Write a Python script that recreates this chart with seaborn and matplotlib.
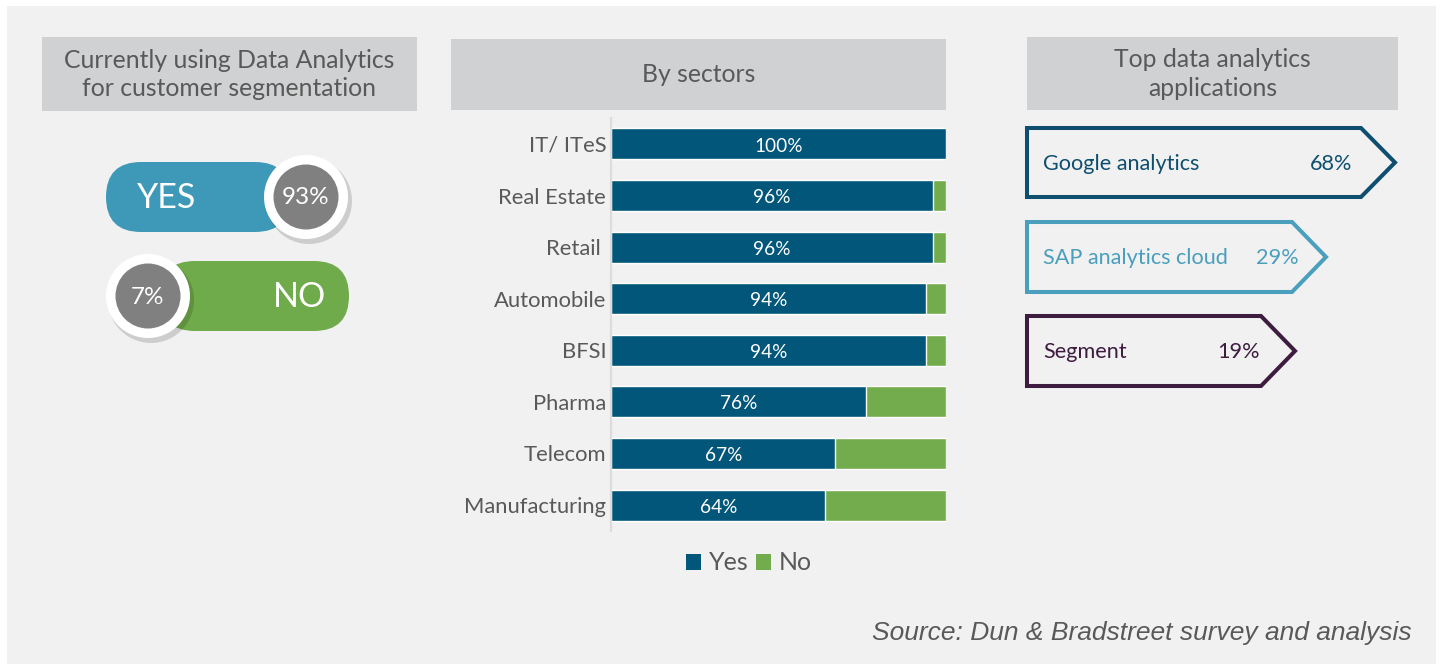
import matplotlib
matplotlib.use("Agg")
import matplotlib.pyplot as plt
from matplotlib.patches import FancyBboxPatch, Rectangle, Circle, Polygon, Patch
import seaborn as sns
import pandas as pd

# ---------------- data ----------------
usage_labels = ["YES", "NO"]
usage_pct = [93, 7]

sectors = ["IT/ ITeS", "Real Estate", "Retail ", "Automobile", "BFSI",
           "Pharma", "Telecom", "Manufacturing"]
yes_pct = [100, 96, 96, 94, 94, 76, 67, 64]
no_pct = [0, 4, 4, 6, 6, 24, 33, 36]

apps = ["Google analytics", "SAP analytics cloud", "Segment"]
app_pct = [68, 29, 19]

titles = ["Currently using Data Analytics\nfor customer segmentation",
          "By sectors", "Top data analytics\napplications"]
legend_labels = ["Yes", "No"]
source_text = "Source: Dun & Bradstreet survey and analysis"

# ---------------- style ----------------
W, H = 1443, 666
FONT = "Lato"
TXT = "#595959"
C_YES = "#01567a"
C_NO = "#72ac4d"
C_PILL_YES = "#3e98b8"
C_PILL_NO = "#70ab4b"
C_HEAD = "#d0d1d3"
C_BG = "#f1f1f1"
APP_COLORS = ["#0e4f6f", "#4a9fbd", "#3d1c40"]

sns.set_theme(style="white")
plt.rcParams["font.family"] = [FONT, "DejaVu Sans"]

fig = plt.figure(figsize=(W / 100, H / 100), dpi=100, facecolor="white")
bg = fig.add_axes([0, 0, 1, 1], zorder=0)
bg.set_xlim(0, W)
bg.set_ylim(H, 0)
bg.axis("off")

# panel background
bg.add_patch(Rectangle((7, 6), 1429, 658, facecolor=C_BG, edgecolor="none"))

# headers
head_boxes = [(42, 37, 375, 74), (451, 39, 495, 71), (1027, 37, 371, 73)]
for (x, y, w, h), t in zip(head_boxes, titles):
    bg.add_patch(Rectangle((x, y), w, h, facecolor=C_HEAD, edgecolor="none"))
    bg.text(x + w / 2, y + h / 2 + 0.5, t, ha="center", va="center",
            fontsize=17.8, color=TXT, linespacing=1.3)

# ---------------- left: pills ----------------
pill_geom = [  # (x0, x1, ycenter, circle_x, label_x)
    (106, 290, 197, 306, 166),
    (160, 349, 296, 148, 298),
]
pill_cols = [C_PILL_YES, C_PILL_NO]
for (x0, x1, yc, cx, lx), lab, pct, col in zip(pill_geom, usage_labels, usage_pct, pill_cols):
    hgt = 70
    bg.add_patch(FancyBboxPatch((x0, yc - hgt / 2), x1 - x0, hgt,
                                boxstyle=f"round,pad=0,rounding_size={hgt/2}",
                                facecolor=col, edgecolor="none", zorder=2))
    # shadow
    bg.add_patch(Circle((cx + 3, yc + 4), 43, facecolor="black", alpha=0.15,
                        edgecolor="none", zorder=3))
    bg.add_patch(Circle((cx, yc), 42, facecolor="white", edgecolor="none", zorder=4))
    bg.add_patch(Circle((cx, yc), 32.5, facecolor="#808080", edgecolor="none", zorder=5))
    bg.text(cx, yc + 1, f"{pct}%", ha="center", va="center", fontsize=17.5,
            color="white", zorder=6)
    bg.text(lx + 1, yc + 1, lab, ha="center", va="center", fontsize=24.5,
            color="white", zorder=6)

# ---------------- right: arrows ----------------
arrow_geom = [  # (top, bottom, body_end, tip, pct_right)
    (128, 197, 1361, 1395, 1352),
    (222, 292, 1292, 1326, 1299),
    (316, 386, 1261, 1295, 1260),
]
ax0 = 1027
for (top, bot, be, tip, pr), name, pct, col in zip(arrow_geom, apps, app_pct, APP_COLORS):
    mid = (top + bot) / 2
    bg.add_patch(Polygon([(ax0, top), (be, top), (tip, mid), (be, bot), (ax0, bot)],
                         closed=True, facecolor="none", edgecolor=col,
                         linewidth=2.9, joinstyle="miter", zorder=2))
    bg.text(1043, mid + 1, name, ha="left", va="center", fontsize=15.6, color=col)
    bg.text(pr, mid + 1, f"{pct}%", ha="right", va="center", fontsize=15.6, color=col)

# ---------------- middle: stacked bars ----------------
step = 51.7
top_px = 144 - step / 2
bot_px = 505 + step / 2
ax = fig.add_axes([611 / W, (H - bot_px) / H, 335 / W, (bot_px - top_px) / H], zorder=1)
ax.set_facecolor("none")

df = pd.DataFrame({"sector": sectors, "yes": yes_pct, "no": no_pct})
df["total"] = df["yes"] + df["no"]

sns.barplot(data=df, y="sector", x="total", color=C_NO, orient="h",
            width=0.6, ax=ax, saturation=1)
sns.barplot(data=df, y="sector", x="yes", color=C_YES, orient="h",
            width=0.6, ax=ax, saturation=1)

ax.set_xlim(0, 100)
ax.set_xlabel("")
ax.set_ylabel("")
ax.set_xticks([])
for s in ["top", "right", "bottom"]:
    ax.spines[s].set_visible(False)
ax.spines["left"].set_color("#dcdcdc")
ax.spines["left"].set_linewidth(1.6)
ax.tick_params(axis="y", length=0, pad=3.5, labelsize=15.8, labelcolor=TXT)

for i, v in enumerate(df["yes"]):
    ax.text(v / 2, i + 0.04, f"{v}%", ha="center", va="center", fontsize=13.7, color="white")

handles = [Patch(facecolor=C_YES, edgecolor="none"), Patch(facecolor=C_NO, edgecolor="none")]
fig.legend(handles, legend_labels, loc="center", bbox_to_anchor=(749 / W, (H - 563) / H),
           ncol=2, frameon=False, fontsize=18, handlelength=0.6, handleheight=0.6,
           handletextpad=0.3, columnspacing=0.3, labelcolor=TXT)

# source
bg.text(1412, 633, source_text, ha="right", va="center", fontsize=19,
        style="italic", color=TXT, family=["Liberation Sans", "DejaVu Sans"])

fig.savefig("out.png", dpi=100, facecolor="white")
